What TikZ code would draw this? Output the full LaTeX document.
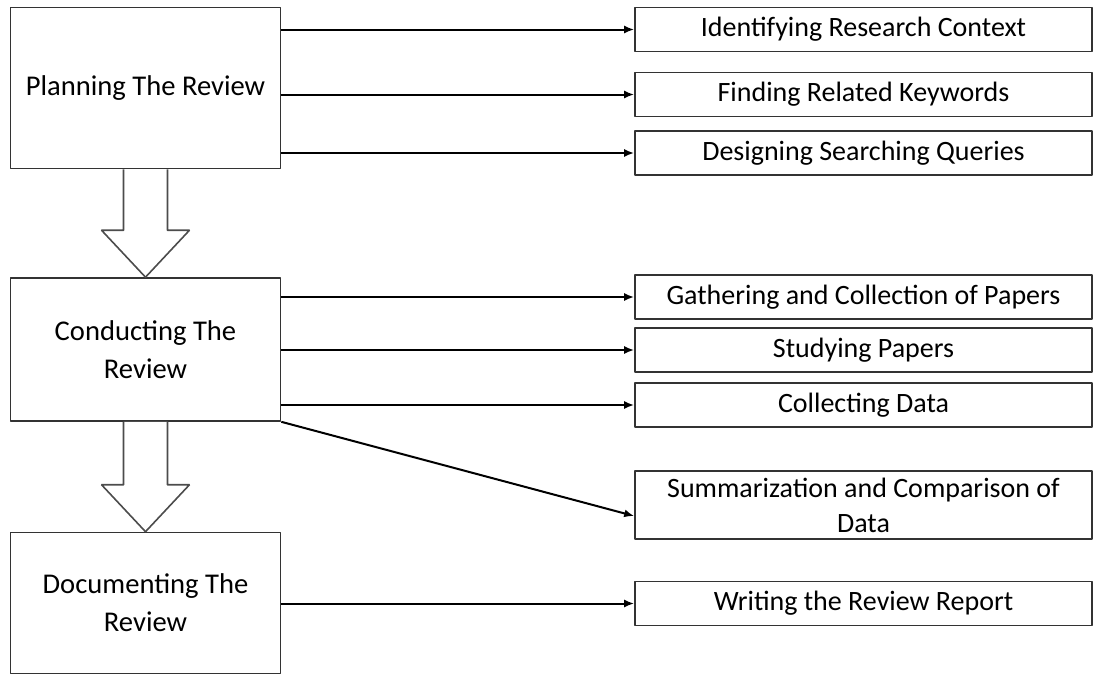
\documentclass[tikz,border=0pt]{standalone}
\usepackage{fontspec}
\setmainfont{Carlito}
\usetikzlibrary{arrows.meta}
\usetikzlibrary{calc}

\begin{document}
\begin{tikzpicture}[x=0.5pt,y=-0.5pt,>={Latex[length=5pt,width=4pt]},line join=bevel,
  phase/.style={draw=black!80,line width=0.8pt,minimum width=135pt,align=center,inner sep=0pt,font=\fontsize{14.3}{19}\selectfont},
  task/.style={draw=black!80,line width=0.8pt,minimum width=228.5pt,minimum height=22pt,align=center,inner sep=0pt,font=\fontsize{14}{17.5}\selectfont},
  flow/.style={draw=black!70,line width=0.8pt,fill=white}]
\useasboundingbox (0,0) rectangle (1094,677);
%%
\node (node_plan) at (145.5,88) [phase,minimum height=80.5pt] {Planning The Review};
  \node (node_cond) at (145.5,349.5) [phase,minimum height=71.5pt] {Conducting The\\Review};
  \node (node_doc) at (145.5,603) [phase,minimum height=70.5pt] {Documenting The\\Review};
  \node (node_ident) at (863.5,29.5) [task] {Identifying Research Context};
  \node (node_find) at (863.5,94.5) [task] {Finding Related Keywords};
  \node (node_design) at (863.5,153) [task] {Designing Searching Queries};
  \node (node_gather) at (863.5,297) [task] {Gathering and Collection of Papers};
  \node (node_study) at (863.5,350) [task] {Studying Papers};
  \node (node_collect) at (863.5,405) [task] {Collecting Data};
  \node (node_summ) at (863.5,505) [task,minimum height=34pt] {Summarization and Comparison of\\Data};
  \node (node_write) at (863.5,603.5) [task] {Writing the Review Report};
  \foreach \t in {node_ident,node_find,node_design}
    \draw [black,->,line width=1pt] (node_plan.east |- \t) -- (\t);
  \foreach \t in {node_gather,node_study,node_collect}
    \draw [black,->,line width=1pt] (node_cond.east |- \t) -- (\t);
  \draw [black,->,line width=1pt] (node_cond.south east) -- ([yshift=-5.5pt]node_summ.west);
  \draw [black,->,line width=1pt] (node_doc.east |- node_write) -- (node_write);
  \foreach \a/\b in {node_plan/node_cond,node_cond/node_doc}
    \draw [flow] ($(\a.south)+(-22,0)$) -- ($(\b.north)+(-22,-47)$) -- ($(\b.north)+(-44,-47)$)
      -- (\b.north) -- ($(\b.north)+(44,-47)$) -- ($(\b.north)+(22,-47)$) -- ($(\a.south)+(22,0)$);
%
\end{tikzpicture}
\end{document}
